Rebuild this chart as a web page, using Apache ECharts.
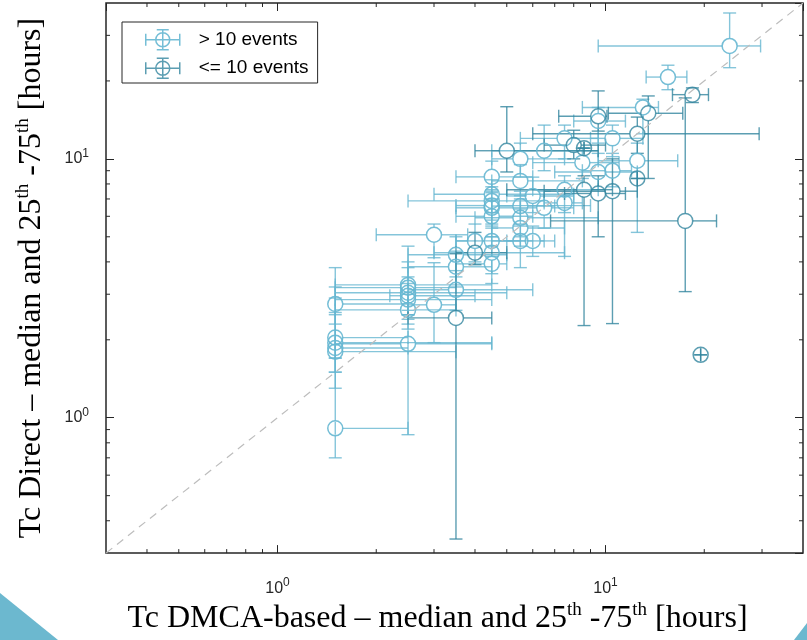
<!DOCTYPE html>
<html>
<head>
<meta charset="utf-8">
<script src="https://cdn.jsdelivr.net/npm/echarts@6/dist/echarts.min.js"></script>
<style>
html,body{margin:0;padding:0;background:#fff}
#chart{width:807px;height:640px}
</style>
</head>
<body>
<div id="chart"></div>
<script>
// > 10 events : median, 25th and 75th percentile (x = DMCA-based, y = direct)
var manyX   = [1.5,1.5,1.5,1.5,1.5,1.5, 2.5,2.5,2.5,2.5,2.5,2.5,2.5, 3.0,3.0, 3.5,3.5,3.5, 4.0,
               4.5,4.5,4.5,4.5,4.5,4.5,4.5,4.5,4.5, 5.5,5.5,5.5,5.5,5.5,5.5, 6.0,6.0, 6.5,6.5,
               7.5,7.5,7.5, 8.5, 9.5,9.5, 10.5,10.5, 12.5, 13.0, 15.5, 23.9];
var manyXlo = [1.5,1.5,1.5,1.5,1.5,1.5, 1.5,1.5,1.5,2.2,1.5,1.5,1.5, 2.0,2.5, 2.5,2.5,2.5, 3.5,
               3.5,3.0,2.5,3.5,3.5,3.5,3.5,3.0,3.5, 4.5,4.5,4.5,4.0,4.5,4.5, 5.0,5.0, 4.5,5.5,
               5.5,6.0,6.5, 6.0, 7.0,8.0, 9.0,8.5, 9.5, 8.5, 13.3, 9.5];
var manyXhi = [2.5,2.5,4.5,2.5,3.5,2.5, 4.5,3.5,5.0,4.0,4.5,3.5,4.5, 3.8,3.5, 5.0,4.5,6.0, 5.5,
               6.0,8.0,6.5,9.0,5.5,6.0,6.0,7.5,5.0, 7.5,8.5,7.0,9.5,7.5,6.5, 8.0,7.0, 9.5,8.0,
               9.5,9.5,8.5, 11.0, 12.5,11.5, 13.0,12.0, 16.6, 14.5, 17.7, 29.7];
var manyY   = [2.75,2.04,1.95,1.86,1.80,0.91, 3.26,3.18,3.04,2.96,2.86,2.61,1.93, 5.09,2.73, 4.26,3.83,3.12, 4.82,
               8.52,7.30,6.88,6.60,6.47,6.00,4.82,4.34,3.93, 10.0,8.22,6.57,5.92,5.41,4.82, 7.19,4.82, 10.75,6.47,
               12.0,7.60,6.76, 9.67, 8.90,14.0, 12.0,9.00, 9.83, 15.8, 20.7, 27.3];
var manyYlo = [2.3,1.7,1.5,1.3,1.5,0.70, 2.6,2.5,2.4,2.5,2.5,2.2,0.86, 4.15,1.95, 3.5,3.2,2.6, 4.0,
               7.4,6.2,5.8,5.5,5.4,5.0,4.2,3.6,3.3, 8.5,7.2,5.6,5.0,4.6,3.8, 6.2,4.2, 9.0,5.4,
               10.0,6.2,4.2, 8.4, 7.6,11.5, 10.2,7.8, 5.2, 12.5, 18.5, 22.5];
var manyYhi = [3.8,2.55,3.2,2.5,2.9,1.7, 4.6,4.0,3.8,3.5,3.3,3.0,2.3, 5.6,3.97, 5.0,4.4,3.7, 5.6,
               9.8,8.3,7.6,7.8,7.5,7.0,5.6,5.0,4.6, 11.5,9.5,7.5,7.0,6.4,5.5, 8.5,5.5, 13.5,7.5,
               13.5,8.6,7.6, 11.0, 10.5,15.8, 13.5,10.5, 11.5, 17.0, 23.0, 36.6];

// <= 10 events
var fewX   = [18.4, 17.5, 19.5, 3.5, 4.0, 5.0, 8.0, 8.6, 9.5, 8.6, 9.5, 10.5, 12.5, 12.5, 13.5];
var fewXlo = [16.0, 6.8, 19.5, 2.5, 3.5, 4.0, 6.5, 8.6, 7.2, 5.0, 7.5, 6.5, 6.0, 12.5, 10.2];
var fewXhi = [20.6, 21.8, 19.5, 4.5, 5.0, 9.5, 10.0, 8.6, 10.1, 10.5, 11.5, 12.5, 29.4, 12.5, 17.2];
var fewY   = [17.7, 5.76, 1.75, 2.43, 4.34, 10.75, 11.3, 11.0, 14.6, 7.6, 7.35, 7.5, 12.5, 8.4, 15.0];
var fewYlo = [16.5, 3.07, 1.75, 0.34, 3.9, 8.9, 10.0, 11.0, 12.8, 2.27, 5.0, 2.31, 10.5, 8.4, 8.4];
var fewYhi = [18.8, 17.2, 1.75, 4.3, 5.2, 15.9, 12.9, 11.0, 18.3, 8.6, 8.6, 10.0, 14.5, 8.4, 17.5];

var axisMin = 0.3, axisMax = 40;
var minorTickVals = [0.4,0.5,0.6,0.7,0.8,0.9, 2,3,4,5,6,7,8,9, 20,30];
var diagLine = [[0.3,0.3],[40,40]];

var lightColor = '#66B7D1';
var darkColor = '#33869F';
var RADIUS = 7.5, CAP = 6.5;
var axisInk = '#262626';

function rows(x, xlo, xhi, y, ylo, yhi) {
  var out = [];
  for (var i = 0; i < x.length; i++) out.push([x[i], y[i], xlo[i], xhi[i], ylo[i], yhi[i]]);
  return out;
}
var manyData = rows(manyX, manyXlo, manyXhi, manyY, manyYlo, manyYhi);
var fewData = rows(fewX, fewXlo, fewXhi, fewY, fewYlo, fewYhi);

// error bars stop at the marker edge, caps at the ends
function errorBars(color) {
  return function (params, api) {
    var cx = api.value(0), cy = api.value(1);
    var c = api.coord([cx, cy]);
    var xl = api.coord([api.value(2), cy])[0];
    var xh = api.coord([api.value(3), cy])[0];
    var yl = api.coord([cx, api.value(4)])[1];
    var yh = api.coord([cx, api.value(5)])[1];
    var s = [];
    if (c[0] - xl > RADIUS) s.push([xl, c[1], c[0] - RADIUS, c[1]]);
    if (xh - c[0] > RADIUS) s.push([c[0] + RADIUS, c[1], xh, c[1]]);
    if (yl - c[1] > RADIUS) s.push([c[0], c[1] + RADIUS, c[0], yl]);
    if (c[1] - yh > RADIUS) s.push([c[0], yh, c[0], c[1] - RADIUS]);
    s.push([xl, c[1] - CAP, xl, c[1] + CAP]);
    s.push([xh, c[1] - CAP, xh, c[1] + CAP]);
    s.push([c[0] - CAP, yl, c[0] + CAP, yl]);
    s.push([c[0] - CAP, yh, c[0] + CAP, yh]);
    return {
      type: 'group',
      children: s.map(function (p) {
        return { type: 'line', shape: { x1: p[0], y1: p[1], x2: p[2], y2: p[3] },
                 style: { stroke: color, lineWidth: 1.4, opacity: 0.8 } };
      })
    };
  };
}

function minorTicksX(params, api) {
  var v = api.value(0);
  var b = api.coord([v, axisMin]), t = api.coord([v, axisMax]);
  var st = { stroke: axisInk, lineWidth: 1 };
  return { type: 'group', children: [
    { type: 'line', shape: { x1: b[0], y1: b[1], x2: b[0], y2: b[1] - 4 }, style: st },
    { type: 'line', shape: { x1: t[0], y1: t[1], x2: t[0], y2: t[1] + 4 }, style: st }
  ]};
}
function minorTicksY(params, api) {
  var v = api.value(1);
  var l = api.coord([axisMin, v]), r = api.coord([axisMax, v]);
  var st = { stroke: axisInk, lineWidth: 1 };
  return { type: 'group', children: [
    { type: 'line', shape: { x1: l[0], y1: l[1], x2: l[0] + 4, y2: l[1] }, style: st },
    { type: 'line', shape: { x1: r[0], y1: r[1], x2: r[0] - 4, y2: r[1] }, style: st }
  ]};
}

function powLabel(v) {
  var e = Math.log10(v);
  if (Math.abs(e - Math.round(e)) > 1e-6) return '';
  return '{b|10}{s|' + Math.round(e) + '}';
}
var labelRich = {
  b: { fontSize: 16, fontFamily: 'Liberation Sans', color: axisInk, lineHeight: 22 },
  s: { fontSize: 12, fontFamily: 'Liberation Sans', color: axisInk, lineHeight: 12, verticalAlign: 'top' }
};
var nameRich = {
  t: { fontSize: 32, fontFamily: 'Liberation Serif', color: '#000', lineHeight: 36 },
  s: { fontSize: 19, fontFamily: 'Liberation Serif', color: '#000', lineHeight: 19, verticalAlign: 'top' }
};

function logAxis(pos, withLabels, name) {
  return {
    type: 'log', position: pos, min: axisMin, max: axisMax, logBase: 10,
    axisLine: { show: false },
    axisTick: { show: true, inside: true, length: 8, lineStyle: { color: axisInk, width: 1 } },
    splitLine: { show: false },
    axisLabel: withLabels ? { show: true, formatter: powLabel, rich: labelRich,
                              showMinLabel: false, showMaxLabel: false } : { show: false },
    name: name || '',
    nameLocation: 'middle',
    nameTextStyle: { rich: nameRich }
  };
}

var xBottom = logAxis('bottom', true,
  '{t|Tc DMCA-based – median and 25}{s|th}{t| -75}{s|th}{t| [hours]}');
xBottom.nameGap = 44;
xBottom.axisLabel.margin = 24;
xBottom.nameTextStyle.padding = [0, 34, 0, 0];
var yLeft = logAxis('left', true,
  '{t|Tc Direct – median and 25}{s|th}{t| -75}{s|th}{t| [hours]}');
yLeft.nameGap = 56;
yLeft.axisLabel.margin = 17;

var legendIcon = 'path://M0,10L34,10M0,4L0,16M34,4L34,16M17,0L17,20M11,0L23,0M11,20L23,20' +
                 'M24,10A7,7,0,1,1,10,10A7,7,0,1,1,24,10Z';

var chart = echarts.init(document.getElementById('chart'), null, { renderer: 'canvas' });
chart.setOption({
  animation: false,
  backgroundColor: '#fff',
  grid: { left: 106, right: 4, top: 3, bottom: 85, show: true,
          borderColor: axisInk, borderWidth: 1.5, backgroundColor: 'transparent' },
  xAxis: [xBottom, logAxis('top', false)],
  yAxis: [yLeft, logAxis('right', false)],
  legend: {
    left: 122, top: 22, orient: 'vertical',
    backgroundColor: '#fff', borderColor: axisInk, borderWidth: 1,
    padding: [7, 9, 4, 23], itemGap: 7, itemWidth: 34, itemHeight: 20,
    textStyle: { fontFamily: 'Liberation Sans', fontSize: 19, color: '#000',
                 rich: { a: { fontFamily: 'Liberation Sans', fontSize: 19, color: '#000', padding: [0, 0, 0, 14] } } },
    formatter: function (n) { return '{a|' + n + '}'; },
    data: [
      { name: '> 10 events', icon: legendIcon,
        itemStyle: { color: 'rgba(0,0,0,0)', borderColor: lightColor, borderWidth: 1.5 } },
      { name: '<= 10 events', icon: legendIcon,
        itemStyle: { color: 'rgba(0,0,0,0)', borderColor: darkColor, borderWidth: 1.5 } }
    ]
  },
  graphic: [
    { type: 'polygon', shape: { points: [[0, 593], [58, 640], [0, 640]] }, style: { fill: '#6CB8CF' }, z: -1 },
    { type: 'polygon', shape: { points: [[794, 640], [807, 623], [807, 640]] }, style: { fill: '#6CB8CF' }, z: -1 }
  ],
  series: [
    { type: 'custom', name: 'minorX', silent: true, data: minorTickVals.map(function (v) { return [v, 1]; }),
      renderItem: minorTicksX, z: 5 },
    { type: 'custom', name: 'minorY', silent: true, data: minorTickVals.map(function (v) { return [1, v]; }),
      renderItem: minorTicksY, z: 5 },
    { type: 'custom', name: 'barsMany', silent: true, clip: true, data: manyData,
      encode: { x: 0, y: 1 }, renderItem: errorBars(lightColor), z: 2 },
    { type: 'custom', name: 'barsFew', silent: true, clip: true, data: fewData,
      encode: { x: 0, y: 1 }, renderItem: errorBars(darkColor), z: 3 },
    { type: 'scatter', name: '> 10 events', data: manyData.map(function (d) { return [d[0], d[1]]; }),
      symbol: 'circle', symbolSize: 15,
      itemStyle: { color: 'rgba(0,0,0,0)', borderColor: lightColor, borderWidth: 1.5, opacity: 0.9 }, z: 3 },
    { type: 'scatter', name: '<= 10 events', data: fewData.map(function (d) { return [d[0], d[1]]; }),
      symbol: 'circle', symbolSize: 15,
      itemStyle: { color: 'rgba(0,0,0,0)', borderColor: darkColor, borderWidth: 1.5 }, z: 4 },
    { type: 'line', name: 'diag', data: diagLine, symbol: 'none', silent: true,
      lineStyle: { color: '#BDBDBD', width: 1.2, type: [8, 6] }, z: 4 }
  ]
});
</script>
</body>
</html>
